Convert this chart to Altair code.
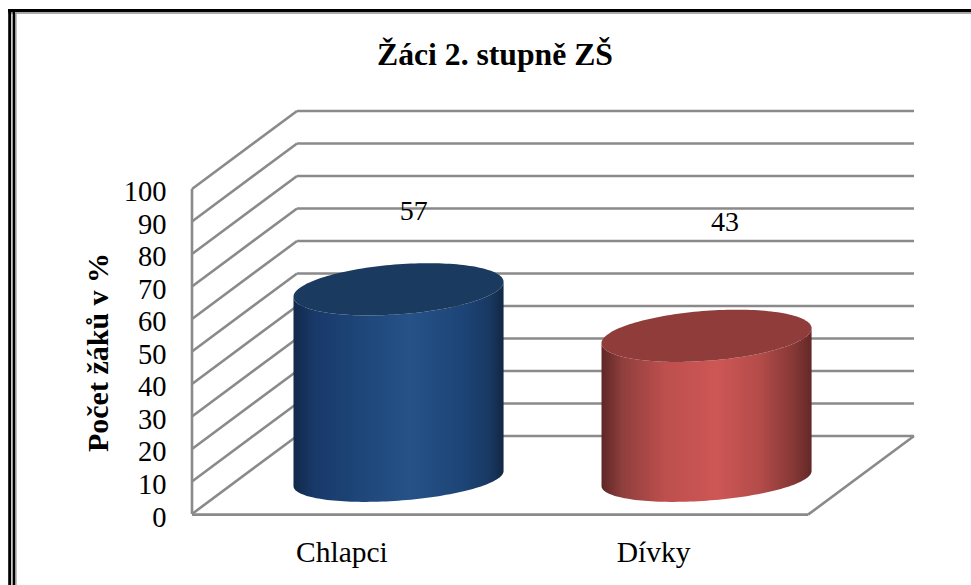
import altair as alt
import numpy as np
import pandas as pd

# Chart content
TITLE = "Žáci 2. stupně ZŠ"
Y_TITLE = "Počet žáků v %"
CATEGORIES = ["Chlapci", "Dívky"]
VALUES = [57, 43]
TICKS = list(range(0, 101, 10))

# Oblique projection of the 3D box, in axis units
FONT = "Liberation Serif"
DEPTH_X = 0.341
DEPTH_Y = 24.0
FRONT_CATS = 2
X_MAX = 2.344
Y_MAX = 124.3
RADIUS_X = 0.341
CAP_MINOR = 7.7
BASE_MINOR = 6.8
ELLIPSE_TILT = 2.3
FLOOR_LIFT = 10.9
COLUMN_STRETCH = 1.0215
LABEL_X = {"Chlapci": 0.72, "Dívky": 1.73}
LABEL_LIFT = {"Chlapci": 36.0, "Dívky": 46.5}
CATEGORY_TICKS = [0.485, 1.497]

GRID = "#8a8a8a"
BLUE_TOP = "#1a3a60"
RED_TOP = "#8f3c3a"
BLUE_STOPS = [(0, "#12294a"), (0.1, "#18396a"), (0.3, "#1d4577"), (0.55, "#265288"),
              (0.8, "#1d4577"), (0.93, "#183963"), (1, "#122844")]
RED_STOPS = [(0, "#5e2625"), (0.1, "#8f3f3d"), (0.3, "#bd4f4d"), (0.55, "#cd5755"),
             (0.75, "#b44c4a"), (0.92, "#843735"), (1, "#622827")]

x_scale = alt.Scale(domain=[0, X_MAX], nice=False, zero=False)
y_scale = alt.Scale(domain=[0, Y_MAX], nice=False, zero=False)

x_axis = alt.Axis(
    values=CATEGORY_TICKS, title=None, grid=False, domain=False, ticks=False,
    labelExpr=f"datum.value < 1 ? '{CATEGORIES[0]}' : '{CATEGORIES[1]}'",
    labelFont=FONT, labelFontSize=29.5, labelColor="#000000",
    labelPadding=24, labelBaseline="top",
)
y_axis = alt.Axis(
    values=TICKS, title=Y_TITLE, grid=False, domain=False, ticks=False,
    labelFont=FONT, labelFontSize=28.5, labelColor="#000000", labelPadding=26,
    labelBaseline="middle", labelOffset=3,
    titleFont=FONT, titleFontSize=30, titleFontWeight="bold", titleColor="#000000",
    titleAngle=270, titleX=-94, titleY=242, titleAlign="center", titleBaseline="middle",
)


def enc_x(field="x"):
    return alt.X(field, type="quantitative", scale=x_scale, axis=x_axis)


def enc_y(field="y"):
    return alt.Y(field, type="quantitative", scale=y_scale, axis=y_axis)


def segment_layer(rows, width=2.6):
    frame = pd.DataFrame(rows, columns=["x", "y", "x2", "y2"])
    return alt.Chart(frame).mark_rule(color=GRID, strokeWidth=width).encode(
        x=enc_x(), y=enc_y(), x2="x2", y2="y2"
    )


def ellipse_frame(cx, cy, minor):
    """Upper and lower edge of a tilted ellipse, sampled column by column."""
    u = np.cos(np.linspace(np.pi, 0, 81))
    half = minor * np.sqrt(np.clip(1 - u**2, 0, 1))
    centre = cy + ELLIPSE_TILT * u
    return pd.DataFrame({"x": cx + RADIUS_X * u, "top": centre + half, "low": centre - half})


def column_layers(index, value, stops, top_color):
    cx = index + 0.5 + DEPTH_X / 2
    base = ellipse_frame(cx, FLOOR_LIFT, BASE_MINOR)
    cap = ellipse_frame(cx, FLOOR_LIFT + value * COLUMN_STRETCH, CAP_MINOR)
    body = pd.DataFrame({"x": base["x"], "upper": cap["low"], "lower": base["low"]})
    gradient = alt.Gradient(
        gradient="linear", x1=0, x2=1, y1=0, y2=0,
        stops=[alt.GradientStop(offset=o, color=c) for o, c in stops],
    )
    side = alt.Chart(body).mark_area(color=gradient, interpolate="linear").encode(
        x=enc_x(), y=enc_y("upper"), y2="lower"
    )
    lid = alt.Chart(cap).mark_area(color=top_color, interpolate="linear").encode(
        x=enc_x(), y=enc_y("top"), y2="low"
    )
    return [side, lid]


# Walls and floor
wall_rows = [(DEPTH_X, t + DEPTH_Y, X_MAX, t + DEPTH_Y) for t in TICKS]
side_rows = [(0, t, DEPTH_X, t + DEPTH_Y) for t in TICKS]
floor_rows = [(0, -0.2, FRONT_CATS, -0.2), (FRONT_CATS, -0.2, X_MAX, DEPTH_Y), (0, 0, 0, 100)]

layers = [segment_layer(wall_rows), segment_layer(side_rows), segment_layer(floor_rows)]
layers += column_layers(0, VALUES[0], BLUE_STOPS, BLUE_TOP)
layers += column_layers(1, VALUES[1], RED_STOPS, RED_TOP)

# Value labels above each column
label_data = pd.DataFrame({
    "x": [LABEL_X[c] for c in CATEGORIES],
    "y": [v + LABEL_LIFT[c] for c, v in zip(CATEGORIES, VALUES)],
    "label": [str(v) for v in VALUES],
})
layers.append(
    alt.Chart(label_data).mark_text(font=FONT, fontSize=28, color="#000000", baseline="middle").encode(
        x=enc_x(), y=enc_y(), text="label:N"
    )
)

# Double page border on the left and top
border = [
    (8.0, 971, 10.5, 10.5, "#000000", 3),
    (8.0, 971, 13, 13, "#8c8c8c", 1.6),
    (9.7, 9.7, 9, 585, "#000000", 3),
    (13.8, 13.8, 12, 585, "#000000", 2.4),
    (15.8, 15.8, 13, 585, "#9a9a9a", 1.6),
]
for x0, x1, y0, y1, color, width in border:
    layers.append(
        alt.Chart(pd.DataFrame({"k": [0]})).mark_rule(color=color, strokeWidth=width).encode(
            x=alt.value(x0 - 192), x2=alt.value(x1 - 192),
            y=alt.value(y0 - 110), y2=alt.value(y1 - 110),
        )
    )

chart = alt.layer(*layers).properties(
    width=722,
    height=404,
    padding={"left": 192, "top": 110, "right": 57, "bottom": 71},
    autosize="none",
    background="#ffffff",
    # The border sits inside the group bounds, so the title offset is measured from it
    title=alt.TitleParams(
        TITLE, font=FONT, fontSize=31.7, fontWeight="bold", color="#000000",
        anchor="middle", dx=-58, offset=-64, frame="group",
    ),
).configure_view(stroke=None)

chart.save("out.html", embed_options={"renderer": "svg", "actions": False})
